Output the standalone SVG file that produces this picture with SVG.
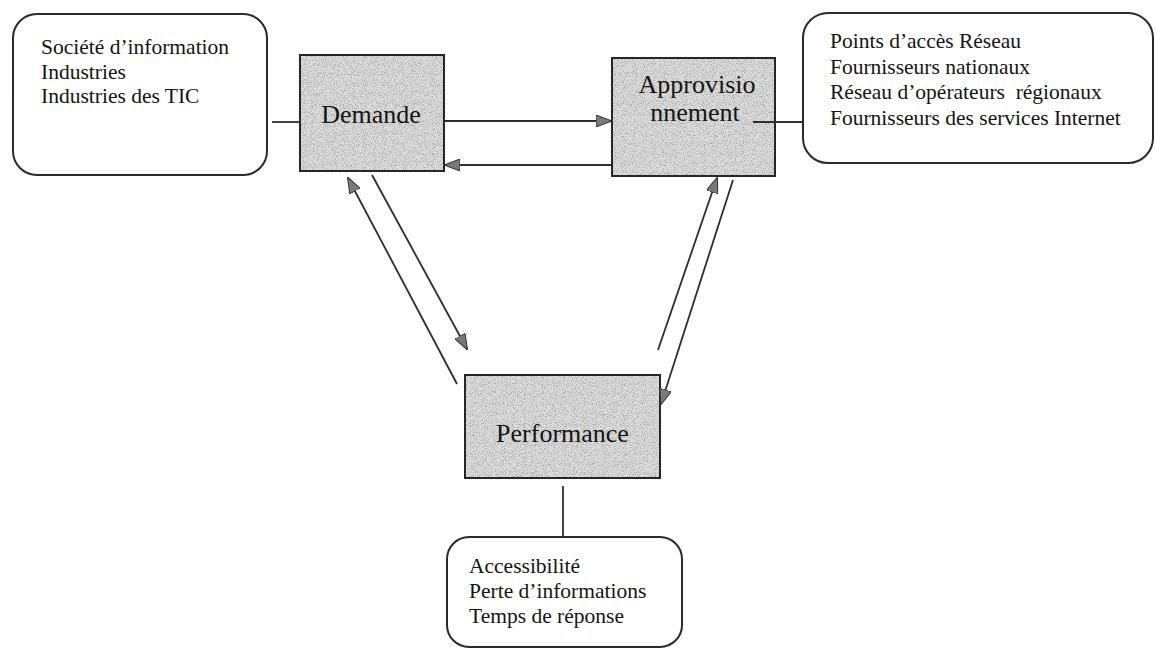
<svg xmlns="http://www.w3.org/2000/svg" width="1155" height="649" viewBox="0 0 1155 649">
  <defs>
    <style>
      .list { font-family: "Liberation Serif", "Times New Roman", serif; font-size: 21.5px; fill: #141414; }
      .label { font-family: "Liberation Serif", "Times New Roman", serif; font-size: 26px; fill: #141414; text-anchor: middle; }
      .panel { fill: #ffffff; stroke: #2a2a2a; stroke-width: 2; }
      .block { fill: #dedede; }
      .grain { fill: #ffffff; filter: url(#stipple); }
      .edge { fill: none; stroke: #262626; stroke-width: 2; }
      .link { fill: none; stroke: #2e2e2e; stroke-width: 1.8; }
      .arrow { fill: none; stroke: #2e2e2e; stroke-width: 1.8; marker-end: url(#head); }
    </style>
    <!-- speckled grey texture for the shaded blocks -->
    <filter id="stipple" x="0" y="0" width="1" height="1" filterUnits="objectBoundingBox">
      <feTurbulence type="fractalNoise" baseFrequency="1.1" numOctaves="1" seed="7" result="noise"/>
      <feColorMatrix in="noise" type="matrix" values="0 0 0 0 0.35  0 0 0 0 0.35  0 0 0 0 0.35  3.2 0 0 0 -1.45"/>
      <feComposite in2="SourceGraphic" operator="in"/>
    </filter>
    <marker id="head" markerUnits="userSpaceOnUse" markerWidth="16" markerHeight="12" refX="15" refY="6" orient="auto">
      <path d="M0,0 L16,6 L0,12 z" fill="#7a7a7a" stroke="#2e2e2e" stroke-width="1"/>
    </marker>
  </defs>

  <rect width="1155" height="649" fill="#ffffff"/>

  <!-- side panels -->
  <g id="usages">
    <rect class="panel" x="13" y="14" width="254" height="161" rx="24"/>
    <text class="list" x="41" y="54">Société d’information</text>
    <text class="list" x="41" y="78.5">Industries</text>
    <text class="list" x="41" y="103">Industries des TIC</text>
  </g>

  <g id="fournisseurs">
    <rect class="panel" x="803" y="13" width="350" height="150" rx="25"/>
    <text class="list" x="830" y="48">Points d’accès Réseau</text>
    <text class="list" x="830" y="73.5">Fournisseurs nationaux</text>
    <text class="list" x="830" y="99" xml:space="preserve">Réseau d’opérateurs  régionaux</text>
    <text class="list" x="830" y="124.5">Fournisseurs des services Internet</text>
  </g>

  <g id="indicateurs">
    <rect class="panel" x="447" y="537" width="235" height="110" rx="22"/>
    <text class="list" x="469" y="573">Accessibilité</text>
    <text class="list" x="469" y="598">Perte d’informations</text>
    <text class="list" x="469" y="623">Temps de réponse</text>
  </g>

  <!-- shaded blocks -->
  <g id="demande">
    <rect class="block" x="300" y="55" width="144" height="116"/>
    <rect class="grain" x="300" y="55" width="144" height="116"/>
    <rect class="edge" x="300" y="55" width="144" height="116"/>
    <text class="label" x="371" y="123">Demande</text>
  </g>

  <g id="approvisionnement">
    <rect class="block" x="612" y="58" width="163" height="118"/>
    <rect class="grain" x="612" y="58" width="163" height="118"/>
    <rect class="edge" x="612" y="58" width="163" height="118"/>
    <text class="label" x="697" y="93">Approvisio</text>
    <text class="label" x="695" y="121">nnement</text>
  </g>

  <g id="performance">
    <rect class="block" x="465" y="375" width="195" height="103"/>
    <rect class="grain" x="465" y="375" width="195" height="103"/>
    <rect class="edge" x="465" y="375" width="195" height="103"/>
    <text class="label" x="562.5" y="442">Performance</text>
  </g>

  <!-- connectors, drawn over the blocks -->
  <g id="connectors">
    <line class="link" x1="272" y1="122" x2="300" y2="122"/>
    <line class="arrow" x1="445" y1="121" x2="611" y2="121"/>
    <line class="arrow" x1="611" y1="165" x2="445" y2="165"/>
    <line class="arrow" x1="372" y1="175" x2="467" y2="349"/>
    <line class="arrow" x1="457" y1="384" x2="348" y2="178"/>
    <line class="arrow" x1="658" y1="350" x2="717" y2="178"/>
    <line class="arrow" x1="733" y1="180" x2="661" y2="404"/>
    <line class="link" x1="753" y1="122" x2="803" y2="122"/>
    <line class="link" x1="563" y1="486" x2="563" y2="537"/>
  </g>
</svg>
